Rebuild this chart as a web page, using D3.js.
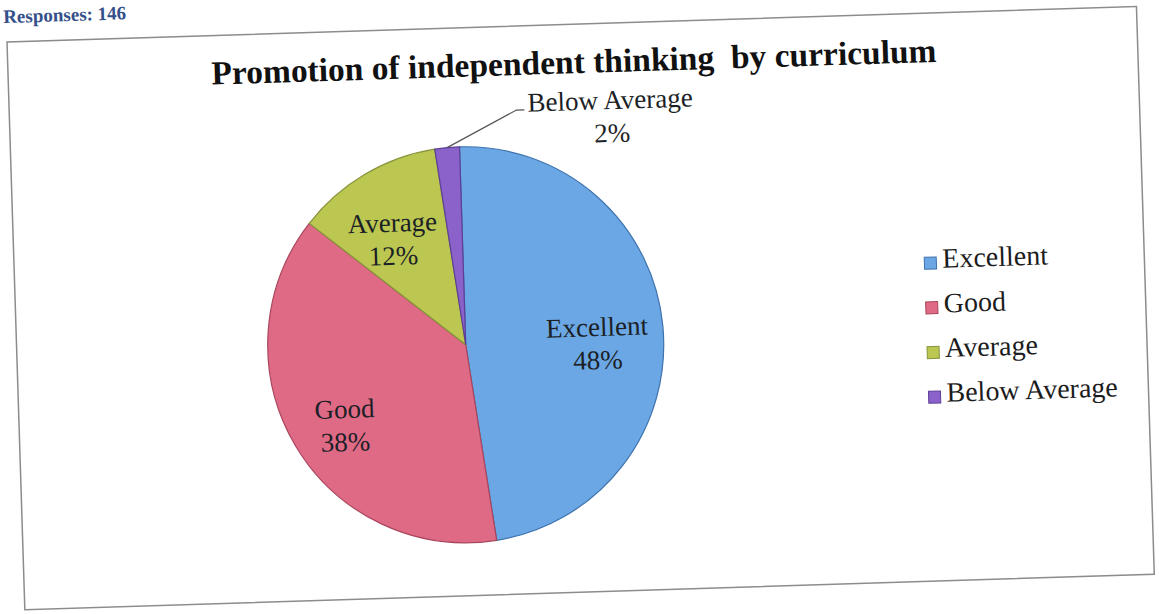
<!DOCTYPE html>
<html>
<head>
<meta charset="utf-8">
<script src="https://cdn.jsdelivr.net/npm/d3@7"></script>
<style>
  body { margin: 0; background: #ffffff; }
  svg { display: block; }
  .title { font-family: "Liberation Serif", "Times New Roman", serif; font-weight: bold; font-size: 33.5px; fill: #111; white-space: pre; }
  .lbl { font-family: "Liberation Serif", "Times New Roman", serif; font-size: 27px; fill: #1c1f26; }
  .legend text { font-family: "Liberation Serif", "Times New Roman", serif; font-size: 28px; fill: #1c1c1c; }
  .page { font-family: "Liberation Serif", "Times New Roman", serif; font-weight: bold; font-size: 19px; fill: #34508a; }
</style>
</head>
<body>
<div id="drawing"></div>
<script>
"use strict"

/**** DATA ****/
let categories = ["Excellent", "Good", "Average", "Below Average"]
let shares = [48, 38, 12, 2]
let colors = ["#6aa7e4", "#df6a86", "#bbc751", "#8a62ca"]
let borders = ["#3f73ad", "#a9455c", "#87933a", "#5d3f96"]
let chartTitle = "Promotion of independent thinking  by curriculum"

let slices = categories.map((c, i) => ({name: c, value: shares[i], color: colors[i], border: borders[i]}))

/**** CANVAS ****/
let svgWidth = 1159
let svgHeight = 614

let svg = d3.select("#drawing")
  .append("svg")
  .attr("width", svgWidth)
  .attr("height", svgHeight)

// the scanned page is slightly tilted
let page = svg.append("g")
  .attr("transform", "translate(7,42) rotate(-1.8)")

page.append("text")
  .attr("class", "page")
  .attr("x", -3)
  .attr("y", -19)
  .text("Responses: 146")

/* frame */
let frameW = 1130
let frameH = 568
page.append("rect")
  .attr("width", frameW)
  .attr("height", frameH)
  .attr("fill", "none")
  .attr("stroke", "#8c8c8c")
  .attr("stroke-width", 1.5)

/* title */
page.append("text")
  .attr("class", "title")
  .attr("x", 566)
  .attr("y", 49)
  .attr("text-anchor", "middle")
  .text(chartTitle)

/**** PIE ****/
let cx = 449
let cy = 317
let radius = 198

let pie = d3.pie().sort(null).value(d => d.value)
let arcs = pie(slices)

let arc = d3.arc().innerRadius(0).outerRadius(radius)
let labelArc = d3.arc().innerRadius(136).outerRadius(136)

let pieG = page.append("g")
  .attr("transform", `translate(${cx},${cy})`)

pieG.selectAll("path.slice")
  .data(arcs)
  .join("path")
  .attr("class", "slice")
  .attr("d", arc)
  .attr("fill", d => d.data.color)
  .attr("stroke", d => d.data.border)
  .attr("stroke-width", 1.2)

/* inside labels */
let inside = arcs.filter(d => d.data.value >= 5)

let lab = pieG.selectAll("text.lbl")
  .data(inside)
  .join("text")
  .attr("class", "lbl")
  .attr("text-anchor", "middle")
  .attr("transform", d => `translate(${labelArc.centroid(d)})`)

lab.append("tspan")
  .attr("x", -4)
  .attr("y", 4)
  .text(d => d.data.name)

lab.append("tspan")
  .attr("x", -4)
  .attr("y", 37)
  .text(d => d.data.value + "%")

/* outside label with leader line */
let small = arcs.filter(d => d.data.value < 5)
small.forEach(function(d) {
  let mid = (d.startAngle + d.endAngle) / 2
  let p0 = [Math.sin(mid) * radius, -Math.cos(mid) * radius]
  let p1 = [58, -233]
  let p2 = [66, -233]
  pieG.append("polyline")
    .attr("points", [p0, p1, p2].map(p => p.join(",")).join(" "))
    .attr("fill", "none")
    .attr("stroke", "#555")
    .attr("stroke-width", 1.2)

  let t = pieG.append("text")
    .attr("class", "lbl")
    .attr("text-anchor", "middle")
  t.append("tspan").attr("x", 152).attr("y", -231).text(d.data.name)
  t.append("tspan").attr("x", 153).attr("y", -198).text(d.data.value + "%")
})

/**** LEGEND ****/
let legend = page.append("g")
  .attr("class", "legend")
  .attr("transform", "translate(910,255)")

let rowGap = 44.7

let rows = legend.selectAll("g.row")
  .data(slices)
  .join("g")
  .attr("class", "row")
  .attr("transform", (d, i) => `translate(0,${i * rowGap})`)

rows.append("rect")
  .attr("x", 0)
  .attr("y", -11)
  .attr("width", 12)
  .attr("height", 12)
  .attr("fill", d => d.color)
  .attr("stroke", d => d.border)
  .attr("stroke-width", 1)

rows.append("text")
  .attr("x", 18)
  .attr("y", 0)
  .text(d => d.name)
</script>
</body>
</html>
